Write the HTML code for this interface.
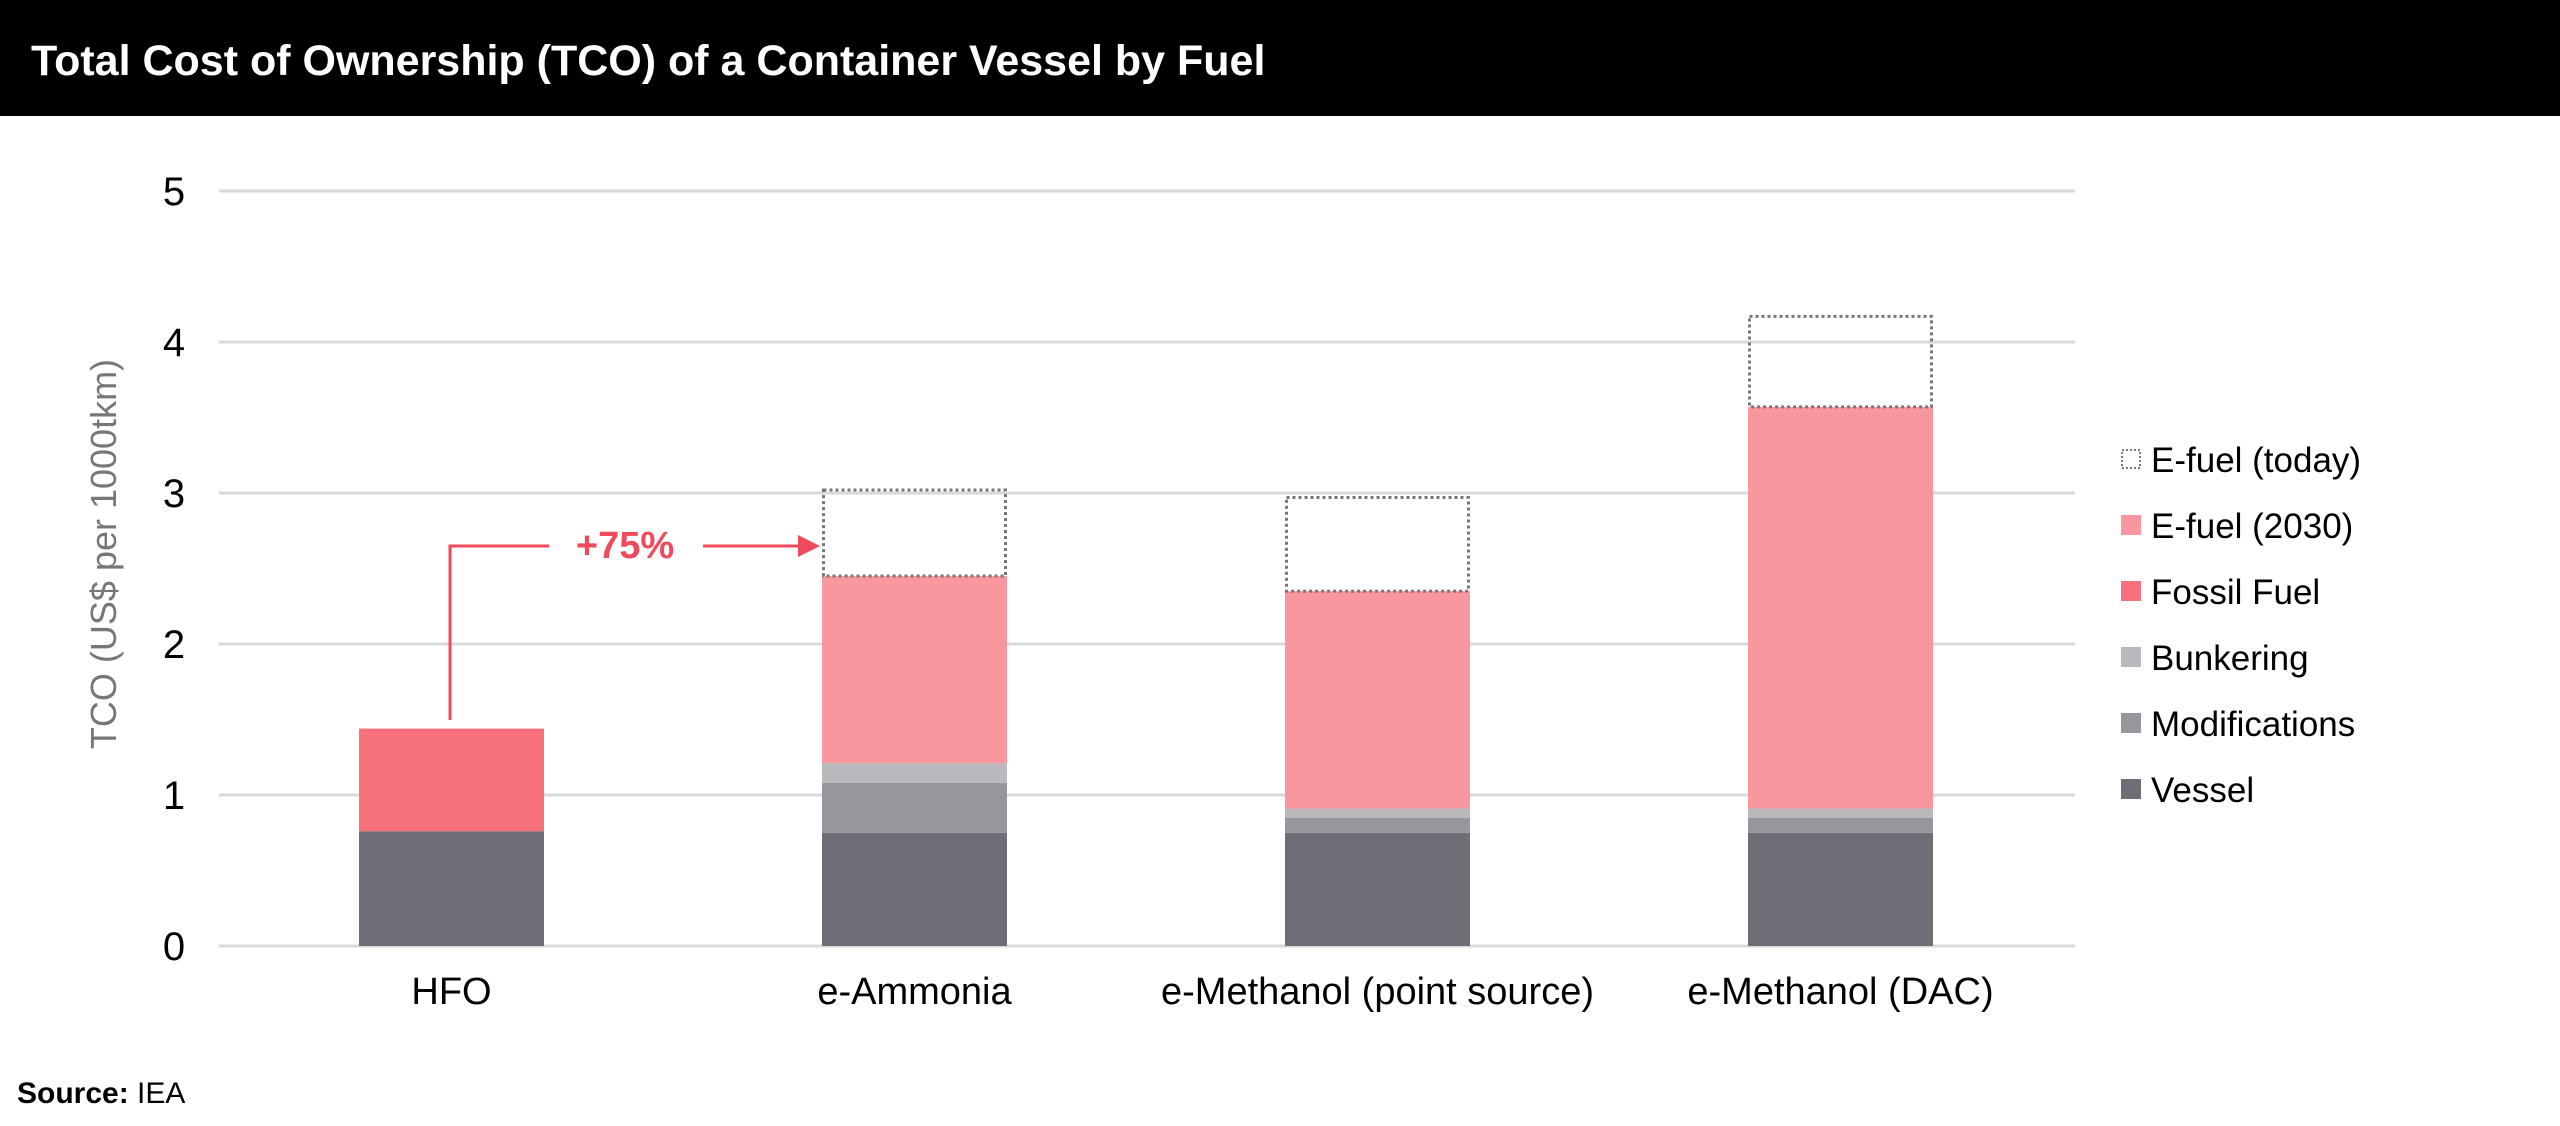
<!DOCTYPE html>
<html><head><meta charset="utf-8"><style>
html,body{margin:0;padding:0;background:#fff;width:2560px;height:1126px;overflow:hidden;font-family:"Liberation Sans",sans-serif}
</style></head><body>
<svg width="2560" height="1126" viewBox="0 0 2560 1126" xmlns="http://www.w3.org/2000/svg" font-family="Liberation Sans, sans-serif">
<rect x="0" y="0" width="2560" height="116" fill="#000"/>
<text x="31" y="75" font-size="43" font-weight="bold" fill="#fff">Total Cost of Ownership (TCO) of a Container Vessel by Fuel</text>
<g id="grid"></g>
<g id="bars"></g>
<g id="labels"></g>
<text transform="translate(116,554) rotate(-90)" text-anchor="middle" font-size="36" fill="#777">TCO (US$ per 1000tkm)</text>
<g>
<polyline points="450,720 450,546 549,546" fill="none" stroke="#f04a5c" stroke-width="3"/>
<text x="625" y="558" text-anchor="middle" font-size="38" font-weight="bold" fill="#f04a5c">+75%</text>
<line x1="703" y1="546" x2="800" y2="546" stroke="#f04a5c" stroke-width="3"/>
<polygon points="798,535 820,546 798,557" fill="#f04a5c"/>
</g>
<g id="legend"></g>
<text x="17" y="1103" font-size="30" fill="#000"><tspan font-weight="bold">Source:</tspan> IEA</text>
</svg>
<script>
const categories=["HFO","e-Ammonia","e-Methanol (point source)","e-Methanol (DAC)"];
const vessel=[0.76,0.75,0.75,0.75];
const modifications=[0,0.33,0.10,0.10];
const bunkering=[0,0.13,0.06,0.06];
const fossilFuel=[0.68,0,0,0];
const efuel2030=[0,1.24,1.44,2.66];
const efuelToday=[0,0.57,0.62,0.60];
const yTicks=[0,1,2,3,4,5];
const seriesNames=["E-fuel (today)","E-fuel (2030)","Fossil Fuel","Bunkering","Modifications","Vessel"];

const NS="http://www.w3.org/2000/svg";
const y0=946, pxPerUnit=151, x0=359, step=463, bw=185;
const yS=v=>y0-v*pxPerUnit;
const xS=i=>x0+i*step;
function mk(tag,attrs,parent){const e=document.createElementNS(NS,tag);for(const k in attrs)e.setAttribute(k,attrs[k]);parent.appendChild(e);return e;}
const grid=document.getElementById('grid');
yTicks.forEach(t=>{
  const l=mk('line',{x1:219,x2:2075,y1:yS(t),y2:yS(t),stroke:'#d9d9d9','stroke-width':3},grid);
  
  
  const tx=mk('text',{x:174,y:yS(t)+14,'text-anchor':'middle','font-size':40,fill:'#000'},grid);
  tx.textContent=t;
  
  
});
const series=[
 {name:'vessel',vals:vessel,fill:'#6e6e76'},
 {name:'modifications',vals:modifications,fill:'#96969c'},
 {name:'bunkering',vals:bunkering,fill:'#b9b9bd'},
 {name:'fossil-fuel',vals:fossilFuel,fill:'#f7717d'},
 {name:'efuel-2030',vals:efuel2030,fill:'#f9979e'},
 {name:'efuel-today',vals:efuelToday,fill:'none',dotted:true}
];
const bars=document.getElementById('bars');
categories.forEach((c,i)=>{
  let acc=0;
  series.forEach(s=>{
    const v=s.vals[i]; if(!v){return;}
    const a={x:xS(i),y:yS(acc+v),width:bw,height:v*pxPerUnit,fill:s.fill};
    if(s.dotted){a.x=xS(i)+1.5;a.width=bw-3;a.stroke='#777';a['stroke-width']=3;a['stroke-dasharray']='3,3';}
    const r=mk('rect',a,bars);
    
    
    acc+=v;
  });
  const t=mk('text',{x:xS(i)+bw/2,y:1004,'text-anchor':'middle','font-size':38,fill:'#000'},document.getElementById('labels'));
  t.textContent=c;
  
  
});
const lg=document.getElementById('legend');
const lfills=['none','#f9979e','#f7717d','#b9b9bd','#96969c','#6e6e76'];
seriesNames.forEach((n,k)=>{
  const cy=459+k*66;
  const g=mk('g',{},lg);
  
  
  const a={x:2121,y:cy-10,width:20,height:20,fill:lfills[k]};
  if(k===0){a.x=2122;a.y=cy-9;a.width=18;a.height=18;a.stroke='#777';a['stroke-width']=2;a['stroke-dasharray']='2,2';}
  mk('rect',a,g);
  const t=mk('text',{x:2151,y:cy+13,'font-size':35,fill:'#000'},g);
  t.textContent=n;
});
</script>
</body></html>
